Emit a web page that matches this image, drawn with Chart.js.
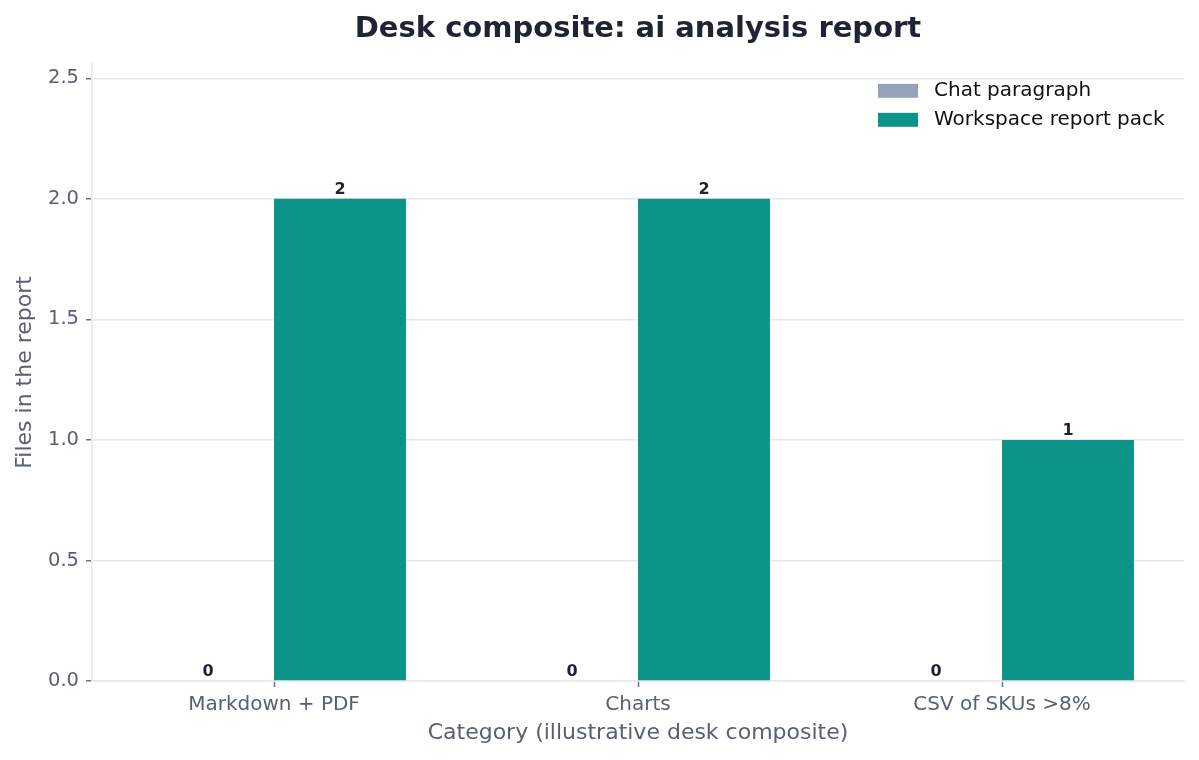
<!DOCTYPE html>
<html>
<head>
<meta charset="utf-8">
<script src="https://cdn.jsdelivr.net/npm/chart.js@4/dist/chart.umd.min.js"></script>
<style>
  html, body { margin: 0; padding: 0; background: #ffffff; }
  #wrap { width: 1199px; height: 760px; }
</style>
</head>
<body>
<div id="wrap"><canvas id="chart" width="1199" height="760"></canvas></div>
<script>
// Chart data
const categories = ['Markdown + PDF', 'Charts', 'CSV of SKUs >8%'];
const chatParagraph = [0, 0, 0];
const workspacePack = [2, 2, 1];
const yTicks = [0, 0.5, 1.0, 1.5, 2.0, 2.5];

const FONT = "'DejaVu Sans', sans-serif";
const mutedText = '#586074';
const gridColor = '#e6e8ec';

// Draws value labels above every bar (zero bars included)
const valueLabels = {
    id: 'valueLabels',
    afterDatasetsDraw(chart) {
        const ctx = chart.ctx;
        ctx.save();
        ctx.font = 'bold 16px ' + FONT;
        ctx.fillStyle = '#1f2233';
        ctx.textAlign = 'center';
        ctx.textBaseline = 'bottom';
        chart.data.datasets.forEach((ds, i) => {
            chart.getDatasetMeta(i).data.forEach((bar, j) => {
                ctx.fillText(String(ds.data[j]), bar.x, bar.y - 1);
            });
        });
        ctx.restore();
    }
};

// Legend box in the top right corner of the plot area
const cornerLegend = {
    id: 'cornerLegend',
    afterDraw(chart) {
        const ctx = chart.ctx;
        const area = chart.chartArea;
        const x = area.right - 306;
        let y = area.top + 20;
        ctx.save();
        ctx.font = '20px ' + FONT;
        ctx.textBaseline = 'middle';
        ctx.textAlign = 'left';
        chart.data.datasets.forEach(ds => {
            ctx.fillStyle = ds.backgroundColor;
            ctx.fillRect(x, y, 40, 14);
            ctx.fillStyle = '#111111';
            ctx.fillText(ds.label, x + 56, y + 7);
            y += 29;
        });
        ctx.restore();
    }
};

const chart = new Chart(document.getElementById('chart'), {
    type: 'bar',
    data: {
        labels: categories,
        datasets: [
            {
                label: 'Chat paragraph',
                data: chatParagraph,
                backgroundColor: '#94a3b8',
                barPercentage: 1.0,
                categoryPercentage: 0.725
            },
            {
                label: 'Workspace report pack',
                data: workspacePack,
                backgroundColor: '#0d9488',
                barPercentage: 1.0,
                categoryPercentage: 0.725
            }
        ]
    },
    options: {
        responsive: false,
        animation: false,
        layout: { padding: { left: 0, right: 15, top: 0, bottom: 0 } },
        plugins: {
            legend: { display: false },
            tooltip: { enabled: false },
            title: {
                display: true,
                text: 'Desk composite: ai analysis report',
                fullSize: false,
                color: '#1e2433',
                font: { family: FONT, size: 29, weight: 'bold', lineHeight: 1.2 },
                padding: { top: 12, bottom: 17 }
            }
        },
        scales: {
            x: {
                afterFit(scale) { scale.height = 79; },
                border: { display: true, color: gridColor, width: 1.5 },
                grid: {
                    offset: false,
                    drawOnChartArea: false,
                    drawTicks: true,
                    tickLength: 6,
                    tickWidth: 1.5,
                    tickColor: '#6b7280'
                },
                ticks: {
                    color: mutedText,
                    padding: 6,
                    font: { family: FONT, size: 20 }
                },
                title: {
                    display: true,
                    text: 'Category (illustrative desk composite)',
                    color: mutedText,
                    font: { family: FONT, size: 22, lineHeight: 1.2 },
                    padding: { top: 0, bottom: 14 }
                }
            },
            y: {
                min: 0,
                max: 2.56,
                afterFit(scale) { scale.width = 92; },
                afterBuildTicks(scale) {
                    scale.ticks = yTicks.map(v => ({ value: v }));
                },
                border: { display: true, color: gridColor, width: 1.5 },
                grid: {
                    color: gridColor,
                    lineWidth: 1.5,
                    drawTicks: true,
                    tickLength: 6,
                    tickWidth: 1.5,
                    tickColor: '#6b7280'
                },
                ticks: {
                    color: mutedText,
                    padding: 7,
                    font: { family: FONT, size: 19.5 },
                    callback: v => Number(v).toFixed(1)
                },
                title: {
                    display: true,
                    text: 'Files in the report',
                    color: mutedText,
                    font: { family: FONT, size: 22, lineHeight: 1.2 },
                    padding: { top: 12, bottom: 0 }
                }
            }
        }
    },
    plugins: [valueLabels, cornerLegend]
});
</script>
</body>
</html>
